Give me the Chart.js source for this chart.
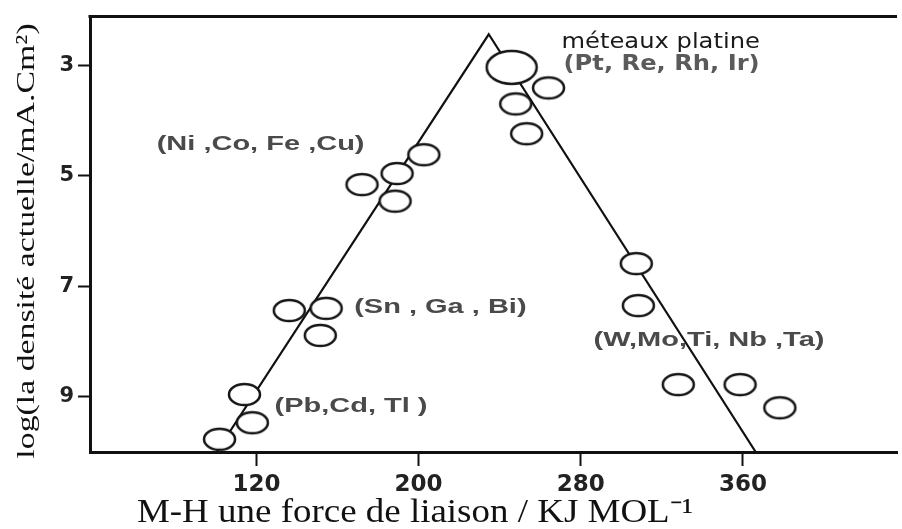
<!DOCTYPE html>
<html>
<head>
<meta charset="utf-8">
<script src="https://cdn.jsdelivr.net/npm/chart.js@4.4.1/dist/chart.umd.min.js"></script>
<style>
  html, body { margin: 0; padding: 0; background: #fff; }
  canvas { display: block; }
</style>
</head>
<body>
<canvas id="volcano" width="902" height="529"></canvas>
<script>
// valeurs
const metalX = [101.8, 114.1, 118.0, 136.2, 154.4, 151.5, 172.1, 189.4, 188.4, 202.6, 264.1, 247.9, 253.3, 307.4, 308.4, 328.1, 358.6, 378.2];
const metalY = [9.77, 8.96, 9.47, 7.44, 7.40, 7.89, 5.16, 4.96, 5.46, 4.62, 3.41, 3.70, 4.24, 6.59, 7.35, 8.78, 8.78, 9.20];
const platineX = [245.9];
const platineY = [3.04];
const volcanX = [100.3, 234.6, 366.3];
const volcanY = [10, 2.44, 10];
const xTicks = [120, 200, 280, 360];
const yTicks = [3, 5, 7, 9];
const groupLabels = ['(Ni ,Co, Fe ,Cu)', '(Sn , Ga , Bi)', '(Pb,Cd, Tl )', 'méteaux platine', '(Pt, Re, Rh, Ir)', '(W,Mo,Ti, Nb ,Ta)'];
const xTitle = 'M-H une force de liaison / KJ MOL⁻¹';
const yTitle = 'log(la densité actuelle/mA.Cm²)';

// où poser les étiquettes (unités des axes : bord gauche, milieu)
const labelAnchors = [[70.8, 4.44], [168.2, 7.38], [128.9, 9.18], [270.5, 2.59], [271.5, 2.98], [286.3, 7.98]];
const grey = { font: 'bold 20px "Liberation Sans"', color: '#4a4a4a', stretch: 1.45 };
const labelStyles = [grey, grey, grey,
  { font: '22px "DejaVu Sans"', color: '#1a1a1a', stretch: 1.1 },
  { font: 'bold 22px "DejaVu Sans"', color: '#5a5a5a', stretch: 1.1 },
  grey];

// cercles un peu écrasés comme sur l'original
function ellipse(rx, ry) {
  const c = document.createElement('canvas');
  c.width = Math.ceil(rx * 2 + 6);
  c.height = Math.ceil(ry * 2 + 6);
  const g = c.getContext('2d');
  g.beginPath();
  g.ellipse(c.width / 2, c.height / 2, rx, ry, 0, 0, Math.PI * 2);
  g.fillStyle = '#fff';
  g.fill();
  g.lineWidth = 2.5;
  g.strokeStyle = '#151515';
  g.stroke();
  return c;
}

const toPoints = (xs, ys) => xs.map((v, i) => ({ x: v, y: ys[i] }));

const decor = {
  id: 'decor',
  beforeDatasetsDraw(chart) {
    const { ctx, chartArea, scales: { x, y } } = chart;
    ctx.save();
    // trait du haut du cadre
    ctx.strokeStyle = '#111';
    ctx.lineWidth = 3;
    ctx.beginPath();
    ctx.moveTo(chartArea.left - 1.5, chartArea.top);
    ctx.lineTo(chartArea.right, chartArea.top);
    ctx.stroke();

    groupLabels.forEach((t, i) => {
      const st = labelStyles[i];
      ctx.save();
      ctx.translate(x.getPixelForValue(labelAnchors[i][0]), y.getPixelForValue(labelAnchors[i][1]));
      ctx.scale(st.stretch, 1);
      ctx.font = st.font;
      ctx.fillStyle = st.color;
      ctx.textAlign = 'left';
      ctx.textBaseline = 'middle';
      ctx.fillText(t, 0, 0);
      ctx.restore();
    });
    ctx.restore();
  },
  afterDraw(chart) {
    const { ctx } = chart;
    ctx.save();
    ctx.fillStyle = '#111';
    ctx.textAlign = 'center';
    ctx.textBaseline = 'middle';
    ctx.font = '33px "Liberation Serif"';
    ctx.save();
    ctx.translate(415, 513);
    ctx.scale(1.12, 1);
    ctx.fillText(xTitle, 0, 0);
    ctx.restore();

    ctx.font = '26px "Liberation Serif"';
    ctx.translate(27, 241);
    ctx.rotate(-Math.PI / 2);
    ctx.scale(1.3, 1);
    ctx.fillText(yTitle, 0, 0);
    ctx.restore();
  }
};

new Chart(document.getElementById('volcano'), {
  type: 'scatter',
  data: {
    datasets: [
      {
        label: 'platine',
        data: toPoints(platineX, platineY),
        pointStyle: ellipse(25, 16.5),
        order: 0,
        clip: false
      },
      {
        label: 'métaux',
        data: toPoints(metalX, metalY),
        pointStyle: ellipse(15.5, 10.5),
        order: 1,
        clip: false
      },
      {
        label: 'volcan',
        data: toPoints(volcanX, volcanY),
        showLine: true,
        borderColor: '#111',
        borderWidth: 2.2,
        pointRadius: 0,
        tension: 0,
        order: 2
      }
    ]
  },
  options: {
    responsive: false,
    animation: false,
    layout: { padding: { top: 14, left: 0, right: 0, bottom: 0 } },
    plugins: {
      legend: { display: false },
      tooltip: { enabled: false }
    },
    scales: {
      x: {
        type: 'linear',
        min: 37.9,
        max: 436,
        afterBuildTicks: s => { s.ticks = xTicks.map(v => ({ value: v })); },
        afterFit: s => { s.height = 77; },
        border: { color: '#111', width: 3 },
        grid: { drawOnChartArea: false, drawTicks: true, tickLength: 14, tickColor: '#111', tickWidth: 2 },
        ticks: {
          color: '#222',
          padding: 5,
          maxRotation: 0,
          font: { family: 'DejaVu Sans', weight: 'bold', size: 23 }
        }
      },
      y: {
        type: 'linear',
        reverse: true,
        min: 2.12,
        max: 10,
        afterBuildTicks: s => { s.ticks = yTicks.map(v => ({ value: v })); },
        afterFit: s => { s.width = 90; },
        border: { color: '#111', width: 3 },
        grid: { drawOnChartArea: false, drawTicks: true, tickLength: 12, tickColor: '#111', tickWidth: 2 },
        ticks: {
          color: '#222',
          padding: 4,
          font: { family: 'DejaVu Sans', weight: 'bold', size: 21 }
        }
      }
    }
  },
  plugins: [decor]
});
</script>
</body>
</html>
